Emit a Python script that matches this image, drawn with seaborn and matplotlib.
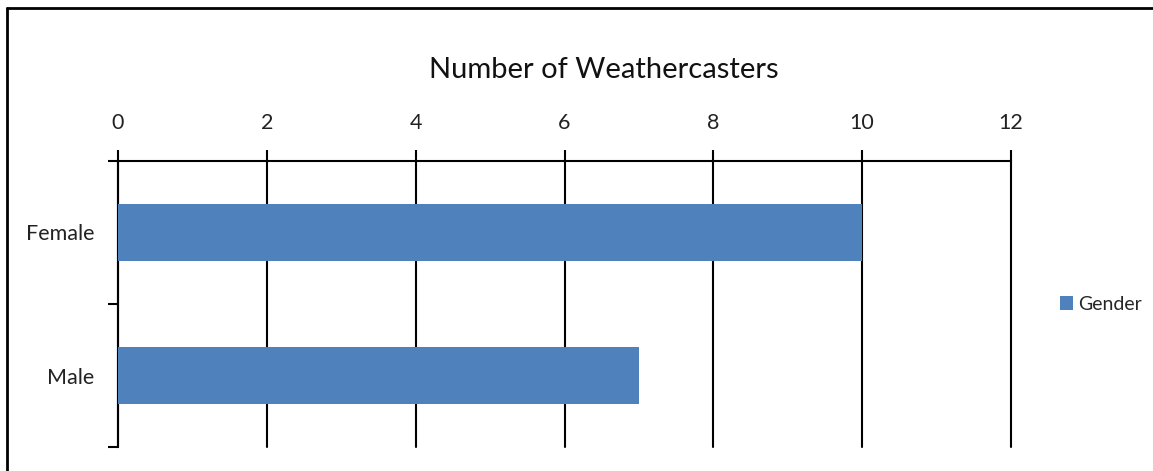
import matplotlib
matplotlib.use('Agg')
import matplotlib.pyplot as plt
import seaborn as sns
import pandas as pd
from matplotlib.lines import Line2D

# Data
genders = ['Female', 'Male']
counts = [10, 7]
series_name = 'Gender'
x_ticks = [0, 2, 4, 6, 8, 10, 12]

sns.set_style('white')
plt.rcParams['font.family'] = ['Lato', 'DejaVu Sans']

df = pd.DataFrame({'gender': genders, 'count': counts})

fig = plt.figure(figsize=(11.53, 4.71), dpi=100)
ax = fig.add_axes([118 / 1153, 1 - 447 / 471, (1011 - 118) / 1153, (447 - 161) / 471])

sns.barplot(data=df, y='gender', x='count', orient='h', color='#4F81BD',
            width=0.4, saturation=1, label=series_name, ax=ax, zorder=3,
            linewidth=0)

ax.set_xlim(0, 12)
ax.set_ylim(1.5, -0.5)
ax.set_xticks(x_ticks)
ax.xaxis.tick_top()
ax.tick_params(axis='x', top=True, length=8, width=1.5, color='black',
               labelsize=15.5, labelcolor='#222222', pad=12)
ax.set_yticks(range(len(genders)))
ax.set_yticklabels(genders)
ax.tick_params(axis='y', which='major', length=0, labelsize=15.5,
               labelcolor='#222222', pad=17)
ax.set_yticks([-0.5, 0.5, 1.5], minor=True)
ax.tick_params(axis='y', which='minor', left=True, length=7, width=1.5,
               color='black')
ax.set_xlabel('')
ax.set_ylabel('')

ax.grid(axis='x', color='black', linewidth=1.5, zorder=1)
ax.set_axisbelow(True)
for gl in ax.get_xgridlines():
    gl.set_clip_on(False)
for side in ['bottom', 'right']:
    ax.spines[side].set_visible(False)
for side in ['top', 'left']:
    ax.spines[side].set_color('black')
    ax.spines[side].set_linewidth(1.5)

fig.text(604 / 1153, 1 - 70 / 471, 'Number of Weathercasters', ha='center',
         va='center', fontsize=21, color='#111111')

ax.legend(loc='center left', bbox_to_anchor=(1052 / 1153, 1 - 304 / 471),
          bbox_transform=fig.transFigure, frameon=False, fontsize=14,
          handlelength=0.7, handleheight=0.7, handletextpad=0.25,
          borderaxespad=0)

# frame of the chart area (only left and top edges are inside the picture)
fig.add_artist(Line2D([7 / 1153, 7 / 1153], [0, 1 - 8 / 471], color='black',
                      linewidth=2, transform=fig.transFigure))
fig.add_artist(Line2D([7 / 1153, 1], [1 - 8 / 471, 1 - 8 / 471], color='black',
                      linewidth=2, transform=fig.transFigure))

fig.savefig('out.png', dpi=100)
